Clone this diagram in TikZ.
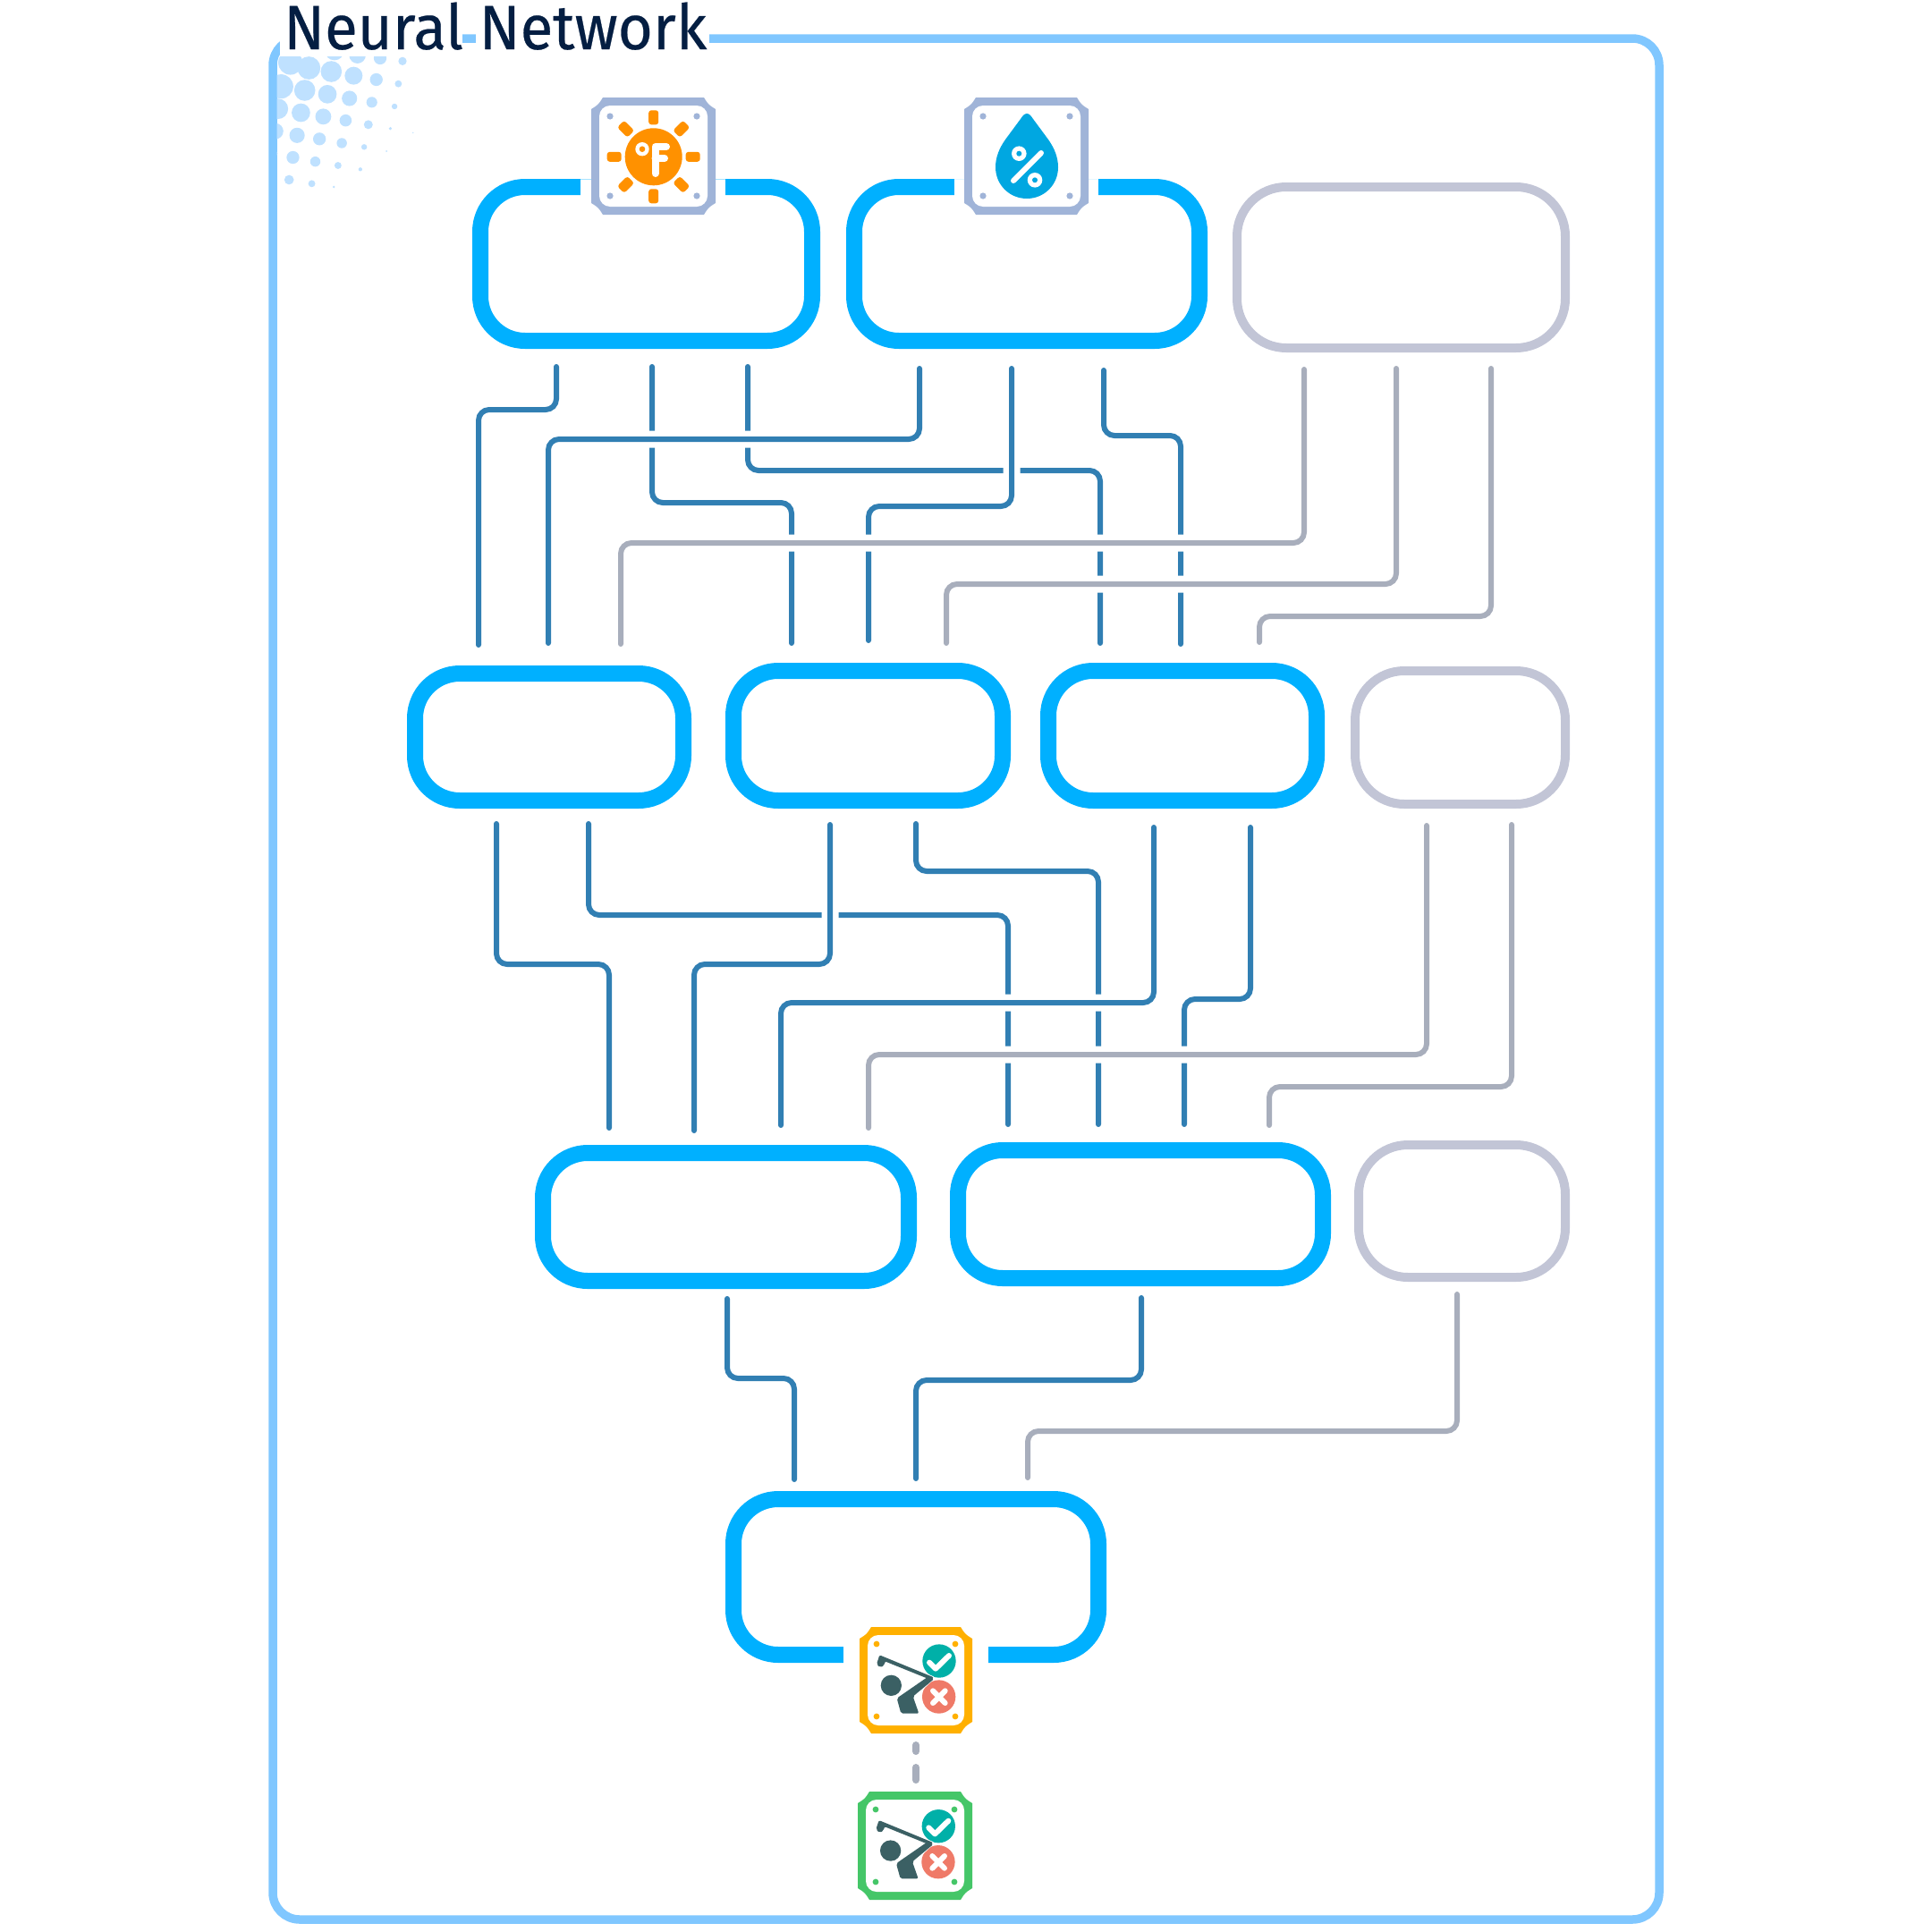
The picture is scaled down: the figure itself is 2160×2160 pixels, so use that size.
\documentclass[tikz,border=0pt]{standalone}
\usepackage{fontspec}
\setmainfont{Fira Sans}
\newfontfamily\titlefont[FakeStretch=0.96,FakeBold=0.35]{Fira Sans}
\definecolor{framec}{HTML}{80C7FF}
\definecolor{dotc}{HTML}{BFE1FF}
\definecolor{boxb}{HTML}{00B0FF}
\definecolor{boxg}{HTML}{C2C5D6}
\definecolor{wireb}{HTML}{317FB3}
\definecolor{wireg}{HTML}{A8AEBC}
\definecolor{iconb}{HTML}{A0B4D8}
\definecolor{icony}{HTML}{FFB000}
\definecolor{icong}{HTML}{45C668}
\definecolor{sunc}{HTML}{FF9100}
\definecolor{dropc}{HTML}{00A7E1}
\definecolor{tealc}{HTML}{00B0A8}
\definecolor{redc}{HTML}{EF7A68}
\definecolor{darkc}{HTML}{3B6064}
\definecolor{titlec}{HTML}{041E42}
\tikzset{
  layerbox/.style={rectangle,rounded corners=50pt,inner sep=0pt,outer sep=0pt,draw=boxb,line width=18pt},
  greybox/.style={rectangle,rounded corners=55pt,inner sep=0pt,outer sep=0pt,draw=boxg,line width=10pt},
  bluewire/.style={draw=wireb,line width=6pt,line cap=round,rounded corners=12pt},
  greywire/.style={draw=wireg,line width=6pt,line cap=round,rounded corners=12pt},
  overwire/.style={preaction={draw=white,line width=19pt,line cap=butt}},
}
% outer edges x0,y0,x1,y1 of a box, name, style, stroke width
\newcommand{\layer}[7]{%
  \node[#2,minimum width={(#5)-(#3)-(#7)},minimum height={(#6)-(#4)-(#7)}] (#1) at ({((#3)+(#5))/2},{((#4)+(#6))/2}) {};}
\newcommand{\wirepath}[4]{\draw[#1] (#2) -- (#2 |- 0,#3) -- (#4 |- 0,#3) -- (#4);}
\newcommand{\iconframe}[5]{%
  \fill[#5] (#1+13,#2) -- (#3-13,#2) .. controls (#3-8,#2+8) .. (#3,#2+13) -- (#3,#4-13)
     .. controls (#3-8,#4-8) .. (#3-13,#4) -- (#1+13,#4) .. controls (#1+8,#4-8) .. (#1,#4-13)
     -- (#1,#2+13) .. controls (#1+8,#2+8) .. (#1+13,#2) -- cycle;
  \fill[white,rounded corners=12pt] (#1+9,#2+9) rectangle (#3-9,#4-9);}
\newcommand{\golfer}[2]{%
  \begin{scope}[shift={(#1,#2)},x=0.33333pt,y=-0.33333pt]
    \fill[tealc] (360,171) circle (56);
    \fill[redc] (359,291) circle (56);
    \draw[white,line width=4pt,line join=round] (163,157) -- (338,228) -- (272,290);
    \fill[darkc] (199,253) circle (35);
    \fill[darkc,rounded corners=2pt] (160,151) -- (342,226) -- (334,235) -- (178,172) -- (176,186) -- (162,193) -- (150,182) -- cycle;
    \fill[darkc,rounded corners=2pt] (218,296) -- (325,222) -- (342,232) -- (272,290) -- (292,347) -- (232,347) -- cycle;
    \draw[white,line width=6pt,line cap=round,line join=round] (327,176) -- (348,197) -- (393,153);
    \draw[white,line width=6pt,line cap=round] (339,271) -- (380,312) (380,271) -- (339,312);
  \end{scope}}
\begin{document}
\begin{tikzpicture}[x=1pt,y=-1pt]
\useasboundingbox (0,0) rectangle (2160,2160);
% outer frame
\node[rectangle,draw=framec,line width=9.5pt,rounded corners=30pt,inner sep=0,outer sep=0,
  minimum width=1550pt,minimum height=2103pt] (frame) at (1080,1094.5) {};
% halftone dots
\begin{scope}
\clip (309.5,63) rectangle (700,300);
\foreach \X/\Y/\R in {448/205/13,378/195/20,307/185/26,235/170/30,155/228/36,225/240/33,295/254/28,366/267/20,435/281/11,
  97/210/38,68/290/38,142/303/33,213/316/29,282/330/24,352/343/17,423/357/9,
  58/365/32,130/378/29,200/391/25,270/404/19,341/418/14,410/431/5,481/445/2,
  50/440/25,118/454/24,188/466/20,258/480/16,328/493/9,398/507/3,
  45/515/12,105/528/20,175/542/16,246/555/11,316/568/6,93/603/15,164/616/11,233/627/4}
  \fill[dotc] ({290+\X/2.8},{\Y/3}) circle ({\R/2.8});
\end{scope}
% title gap in the frame
\fill[white] (313,0) rectangle (517,63);
\fill[white] (532,0) rectangle (793,63);
\node[anchor=base west,inner sep=0,text=titlec,font=\titlefont\fontsize{70}{70}\selectfont] (title) at (317,55) {Neural Network};
% layers
\layer{A}{layerbox}{528}{200}{917}{390}{18}
\layer{B}{layerbox}{946}{200}{1350}{390}{18}
\layer{C}{greybox}{1378}{204}{1755}{394}{10}
\layer{D}{layerbox}{455}{744}{773}{904}{18}
\layer{E}{layerbox}{811}{741}{1130}{904}{18}
\layer{F}{layerbox}{1163}{741}{1481}{904}{18}
\layer{G}{greybox}{1510}{745}{1755}{904}{10}
\layer{H}{layerbox}{598}{1280}{1025}{1441}{18}
\layer{I}{layerbox}{1062}{1277}{1488}{1438}{18}
\layer{J}{greybox}{1514}{1275}{1755}{1433}{10}
\layer{K}{layerbox}{811}{1667}{1237}{1859}{18}
% gaps in the layers for the icons
\fill[white] (649,190) rectangle (811,230);
\fill[white] (1067,190) rectangle (1228,230);
\fill[white] (943,1830) rectangle (1105,1870);
\draw[color=boxb!35,line width=1pt] (649,200) -- (661,200) (800,200) -- (811,200);
\draw[color=boxb!10,line width=1pt] (1067,200) -- (1078,200) (1217,200) -- (1228,200);
% connector ends
\foreach \n/\x/\y in {a1/622/410,a2/729/410,a3/836/410,b1/1028/412,b2/1131/412,b3/1234/414,c1/1458/413,c2/1561/412,c3/1667/412,
  d1/535/721,d2/613/719,d3/694/720,e1/885/719,e2/971/716,e3/1058/719,f1/1230/719,f2/1320/720,f3/1408/718,
  h1/555/921,h2/658/921,i1/928/922,i2/1024/921,j1/1290/925,j2/1398/925,k1/1595/923,k2/1690/922,
  p1/681/1261,p2/776/1264,p3/873/1258,p4/971/1261,q1/1127/1257,q2/1228/1257,q3/1324/1257,q4/1419/1258,
  r1/813/1452,r2/1276/1451,r3/1629/1447,s1/888/1654,s2/1024/1653,s3/1149/1652}
  \coordinate (\n) at (\x,\y);
% row 1 to row 2
\wirepath{bluewire}{a1}{458}{d1}
\wirepath{bluewire}{a2}{562}{e1}
\wirepath{bluewire}{a3}{526}{f1}
\wirepath{bluewire}{b3}{487}{f2}
\wirepath{bluewire,overwire}{b2}{566}{e2}
\wirepath{bluewire,overwire}{b1}{491}{d2}
\wirepath{greywire,overwire}{c1}{607}{d3}
\wirepath{greywire,overwire}{c2}{653}{e3}
\wirepath{greywire,overwire}{c3}{689}{f3}
% row 2 to row 3
\wirepath{bluewire}{h1}{1078}{p1}
\wirepath{bluewire}{h2}{1023}{q1}
\wirepath{bluewire}{i2}{974}{q2}
\wirepath{bluewire}{j2}{1117}{q3}
\wirepath{bluewire,overwire}{i1}{1078}{p2}
\wirepath{bluewire,overwire}{j1}{1121}{p3}
\wirepath{greywire,overwire}{k1}{1179}{p4}
\wirepath{greywire,overwire}{k2}{1215}{q4}
% row 3 to row 4
\wirepath{bluewire}{r1}{1541}{s1}
\wirepath{bluewire}{r2}{1543}{s2}
\wirepath{greywire}{r3}{1600}{s3}
% sun icon
\iconframe{661}{109}{800}{240}{iconb}
\foreach \x/\y in {682/130,779/130,682/219,779/219} \fill[iconb] (\x,\y) circle (3.6);
\begin{scope}[shift={(730.7,175.3)}]
  \fill[sunc] (0,0) circle (32);
  \foreach \a in {0,45,...,315}
    \fill[sunc,rounded corners=3pt,rotate=\a] (36,-5.5) rectangle (52,5.5);
\end{scope}
\draw[white,line width=8pt,line cap=round,line join=round] (745,164) -- (732.5,164) -- (732.5,194) (732.5,177) -- (743,177);
\fill[white] (718,166.7) circle (7.7);
\fill[sunc] (718,166.7) circle (3.3);
% drop icon
\iconframe{1078}{109}{1217}{240}{iconb}
\foreach \x/\y in {1099/130,1196/130,1099/219,1196/219} \fill[iconb] (\x,\y) circle (3.6);
\fill[dropc] (1148,127) .. controls (1145,127) and (1143,130) .. (1141,133) -- (1124,156)
  .. controls (1117,166) and (1113,176) .. (1113,187) .. controls (1113,206.5) and (1128.5,222) .. (1148,222)
  .. controls (1167.5,222) and (1183,206.5) .. (1183,187) .. controls (1183,176) and (1179,166) .. (1172,156)
  -- (1155,133) .. controls (1153,130) and (1151,127) .. (1148,127) -- cycle;
\draw[white,line width=6pt,line cap=round] (1133,202) -- (1164,171);
\foreach \x/\y in {1139.3/171.7,1157/201.3} {\fill[white] (\x,\y) circle (8.3); \fill[dropc] (\x,\y) circle (3);}
% dashed link between the two result icons
\coordinate (t1) at (1024,1951);
\coordinate (t2) at (1024,1990);
\iconframe{961}{1819}{1087}{1938}{icony}
\foreach \x/\y in {980/1838,1068/1838,980/1919,1068/1919} \fill[icony] (\x,\y) circle (3.4);
\golfer{930}{1800}
\iconframe{959}{2003}{1087}{2124}{icong}
\foreach \x/\y in {979/2023,1067/2023,979/2104,1067/2104} \fill[icong] (\x,\y) circle (3.4);
\golfer{929.3}{1984.7}
\draw[wireg,line width=8pt,line cap=round] (t1) -- (1024,1958) (1024,1976) -- (t2);
\end{tikzpicture}
\end{document}
